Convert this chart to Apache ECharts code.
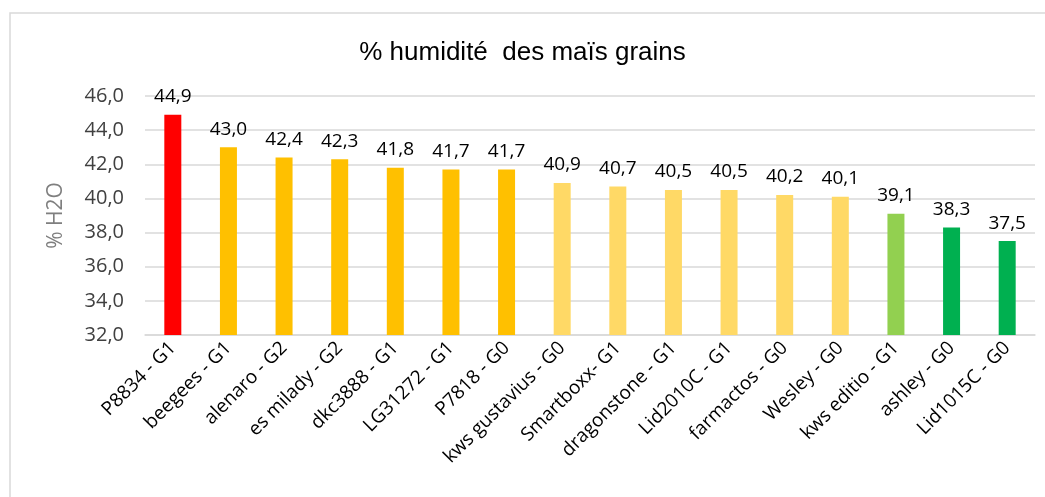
<!DOCTYPE html>
<html><head><meta charset="utf-8">
<script src="https://cdn.jsdelivr.net/npm/echarts@6/dist/echarts.min.js"></script>
<style>html,body{margin:0;padding:0;background:#fff}#c{width:1045px;height:497px}</style>
</head><body><div id="c"></div>
<script>
const categories = ["P8834 - G1","beegees - G1","alenaro - G2","es milady - G2","dkc3888 - G1","LG31272 - G1","P7818 - G0","kws gustavius - G0","Smartboxx- G1","dragonstone - G1","Lid2010C - G1","farmactos - G0","Wesley - G0","kws editio - G1","ashley - G0","Lid1015C - G0"];
const values = [44.9,43.0,42.4,42.3,41.8,41.7,41.7,40.9,40.7,40.5,40.5,40.2,40.1,39.1,38.3,37.5];
const barColors = ["#FF0000","#FFC000","#FFC000","#FFC000","#FFC000","#FFC000","#FFC000","#FFD966","#FFD966","#FFD966","#FFD966","#FFD966","#FFD966","#92D050","#00B050","#00B050"];
const yMin = 32, yMax = 46, yStep = 2;
const fmt = v => v.toFixed(1).replace('.', ',');
const font = "'Open Sans', 'Noto Sans', sans-serif";
const chart = echarts.init(document.getElementById('c'));
chart.setOption({
  animation:false,
  graphic:[{type:'rect',shape:{x:10,y:13,width:1060,height:500},style:{fill:'none',stroke:'#d9d9d9',lineWidth:1.5},z:-1}],
  title:{text:'% humidité  des maïs grains',left:'center',top:35,textStyle:{fontFamily:"'Liberation Sans',Arial,sans-serif",fontSize:26,fontWeight:'normal',color:'#000'}},
  grid:{left:145,right:10,top:96,bottom:162},
  xAxis:{type:'category',data:categories,
    axisLine:{lineStyle:{color:'#d9d9d9',width:1.5}},axisTick:{show:false},
    axisLabel:{rotate:45,interval:0,fontFamily:font,fontSize:19,color:'#000',margin:10}},
  yAxis:{type:'value',min:yMin,max:yMax,interval:yStep,
    name:'% H2O',nameLocation:'middle',nameGap:78,nameTextStyle:{fontFamily:font,fontSize:21,color:'#7f7f7f'},
    axisLabel:{formatter:fmt,fontFamily:font,fontSize:20,color:'#404040',margin:21},
    splitLine:{lineStyle:{color:'#d9d9d9',width:1.5}},axisLine:{show:false},axisTick:{show:false}},
  series:[{type:'bar',barWidth:17,
    data:values.map((v,i)=>({value:v,itemStyle:{color:barColors[i]}})),
    label:{show:true,position:'top',distance:8,lineHeight:20,formatter:p=>fmt(p.value),fontFamily:font,fontSize:19,color:'#000'}}]
});
</script></body></html>
